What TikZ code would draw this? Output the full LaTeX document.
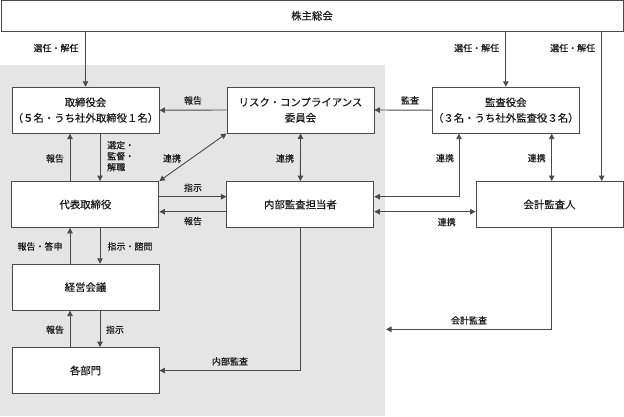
\documentclass[tikz,border=0pt]{standalone}
\usepackage{fontspec}
\setmainfont{Noto Sans CJK JP}[FakeBold=0.35]
\usetikzlibrary{arrows.meta,calc}
\definecolor{linec}{HTML}{4A4A4A}
\definecolor{graybg}{HTML}{E5E5E5}
\definecolor{textc}{HTML}{1A1A1A}
\begin{document}
\begin{tikzpicture}[x=1pt,y=-1pt,
  box/.style={draw=linec, line width=0.9pt, fill=white, minimum width=147pt, minimum height=46pt,
    inner sep=0pt, align=center, text=textc, font=\fontsize{10.4}{15.6}\selectfont},
  lbl/.style={font=\fontsize{9}{11}\selectfont, inner sep=0pt, text height=0.82em, text depth=0.06em, text=textc},
  con/.style={draw=linec, line width=0.9pt},
  arr/.style={con, -{Triangle[length=5.5pt,width=5.5pt]}},
  darr/.style={con, {Triangle[length=5.5pt,width=5.5pt]}-{Triangle[length=5.5pt,width=5.5pt]}},
]
\useasboundingbox (0,0) rectangle (624,416);
\fill[graybg] (0,65) rectangle (385,416);

% boxes
\node[box, minimum width=622pt, minimum height=30.5pt] (soukai) at (312,15.75) {株主総会};
\node[box] (torishimari) at (85.5,110.2) {取締役会\\（５名・うち社外取締役１名）};
\node[box] (risk) at (300.5,110) {リスク・コンプライアンス\\委員会};
\node[box] (kansa) at (505.8,110.2) {監査役会\\（３名・うち社外監査役３名）};
\node[box] (daihyo) at (85.4,204.5) {代表取締役};
\node[box] (naibu) at (300.4,204.5) {内部監査担当者};
\node[box] (kaikei) at (549.5,204.5) {会計監査人};
\node[box] (keiei) at (85.5,287.2) {経営会議};
\node[box] (kakubumon) at (85.5,370.5) {各部門};

% helper coordinates
\coordinate (L) at (70,0);
\coordinate (R) at (100,0);
\coordinate (K1) at (459,0);
\coordinate (K2) at (551.7,0);
\coordinate (K3) at (601.7,0);
\coordinate (Y1) at (0,196.7);
\coordinate (Y2) at (0,211.7);
\coordinate (gedge) at (386,329.3);

% connectors
\draw[arr] (torishimari.north |- soukai.south) -- (torishimari.north);
\draw[arr] (kansa.north |- soukai.south) -- (kansa.north);
\draw[arr] (K3 |- soukai.south) -- (K3 |- kaikei.north);
\draw[arr] (risk.west) -- (torishimari.east);
\draw[arr] (kansa.west) -- (risk.east);
\draw[arr] (L |- daihyo.north) -- (L |- torishimari.south);
\draw[arr] (R |- torishimari.south) -- (R |- daihyo.north);
\draw[darr] (daihyo.north east) -- (risk.south west);
\draw[darr] (risk.south) -- (naibu.north);
\draw[darr] (K1 |- kansa.south) |- (naibu.east |- Y1);
\draw[darr] (K2 |- kansa.south) -- (K2 |- kaikei.north);
\draw[arr] (daihyo.east |- Y1) -- (naibu.west |- Y1);
\draw[arr] (naibu.west |- Y2) -- (daihyo.east |- Y2);
\draw[darr] (naibu.east |- Y2) -- (kaikei.west |- Y2);
\draw[arr] (L |- keiei.north) -- (L |- daihyo.south);
\draw[arr] (R |- daihyo.south) -- (R |- keiei.north);
\draw[arr] (L |- kakubumon.north) -- (L |- keiei.south);
\draw[arr] (R |- keiei.south) -- (R |- kakubumon.north);
\draw[arr] (naibu.south) |- (kakubumon.east);
\draw[arr] (K2 |- kaikei.south) |- (gedge);

% labels
\node[lbl] (l1) at (56,47.7) {選任・解任};
\node[lbl] (l2) at (476.7,47.7) {選任・解任};
\node[lbl] (l3) at (572.7,47.7) {選任・解任};
\node[lbl] (l4) at (193,100) {報告};
\node[lbl] (l5) at (410,100) {監査};
\node[lbl] (l6) at (55,158) {報告};
\node[lbl, anchor=north west, align=left, text height=, text depth=] (l7) at (107,140.8) {選定・\\監督・\\解職};
\node[lbl] (l8) at (172,158) {連携};
\node[lbl] (l9) at (285,158) {連携};
\node[lbl] (l10) at (445,157.7) {連携};
\node[lbl] (l11) at (536.7,157.7) {連携};
\node[lbl] (l12) at (193,187.3) {指示};
\node[lbl] (l13) at (193,220.7) {報告};
\node[lbl] (l14) at (446.7,221.7) {連携};
\node[lbl] (l15) at (40,246) {報告・答申};
\node[lbl] (l16) at (130,246) {指示・諮問};
\node[lbl] (l17) at (55,329.3) {報告};
\node[lbl] (l18) at (115,329.3) {指示};
\node[lbl] (l19) at (230,361) {内部監査};
\node[lbl] (l20) at (469,320) {会計監査};
\end{tikzpicture}
\end{document}
